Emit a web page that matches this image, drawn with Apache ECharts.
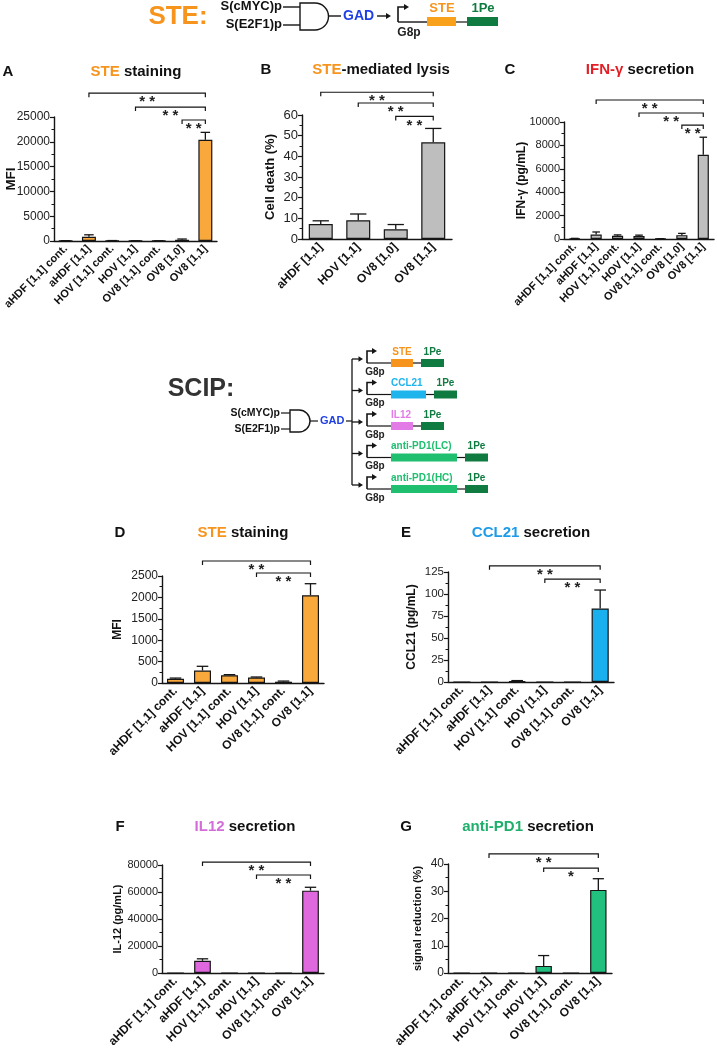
<!DOCTYPE html>
<html><head><meta charset="utf-8">
<script src="https://cdn.jsdelivr.net/npm/echarts@6/dist/echarts.min.js"></script>
<style>html,body{margin:0;padding:0;background:#fff}#c{width:717px;height:1050px}</style>
</head><body><div id="c"></div>
<script>
// ---------- DATA ----------
const catsA = ['aHDF [1,1] cont.', 'aHDF [1,1]', 'HOV [1,1] cont.', 'HOV [1,1]', 'OV8 [1,1] cont.', 'OV8 [1,0]', 'OV8 [1,1]'];
const valsA = [50, 850, 60, 40, 30, 250, 20400];
const errA  = [20, 400, 30, 20, 10, 150, 1500];
const sigA  = [[1, 6, 29800, '* *'], [3, 6, 27000, '* *'], [5, 6, 24400, '* *']];

const catsB = ['aHDF [1,1]', 'HOV [1,1]', 'OV8 [1,0]', 'OV8 [1,1]'];
const valsB = [7.2, 9.1, 4.7, 46.8];
const errB  = [1.6, 3.0, 2.3, 6.7];
const sigB  = [[0, 3, 71, '* *'], [1, 3, 65.8, '* *'], [2, 3, 59.3, '* *']];

const catsC = ['aHDF [1,1] cont.', 'aHDF [1,1]', 'HOV [1,1] cont.', 'HOV [1,1]', 'OV8 [1,1] cont.', 'OV8 [1,0]', 'OV8 [1,1]'];
const valsC = [40, 380, 270, 250, 20, 330, 7200];
const errC  = [15, 220, 80, 80, 5, 150, 1500];
const sigC  = [[1, 6, 11880, '* *'], [3, 6, 10770, '* *'], [5, 6, 9740, '* *']];

const catsDG = ['aHDF [1,1] cont.', 'aHDF [1,1]', 'HOV [1,1] cont.', 'HOV [1,1]', 'OV8 [1,1] cont.', 'OV8 [1,1]'];
const valsD = [100, 290, 180, 130, 30, 2050];
const errD  = [15, 100, 15, 10, 15, 270];
const sigD  = [[1, 5, 2850, '* *'], [3, 5, 2570, '* *']];

const valsE = [0, 0, 0.8, 0, 0, 83.5];
const errE  = [0, 0, 0.8, 0, 0, 21];
const sigE  = [[1, 5, 132, '* *'], [3, 5, 117, '* *']];

const valsF = [0, 9000, 0, 0, 0, 61000];
const errF  = [0, 1500, 0, 0, 0, 2500];
const sigF  = [[1, 5, 82200, '* *'], [3, 5, 72600, '* *']];

const valsG = [0, 0, 0, 2.6, 0, 30.5];
const errG  = [0, 0, 0, 3.8, 0, 4.1];
const sigG  = [[1, 5, 43.7, '* *'], [3, 5, 38.5, '*']];

// ---------- STYLE / LAYOUT ----------
const FONT = '"Liberation Sans", Arial, Helvetica, sans-serif';
const INK = '#151515';

const panels = [
  {cats: catsA, vals: valsA, err: errA, sig: sigA, color: '#F9A93C', max: 25000, interval: 5000, grid: {left: 54, top: 117, width: 163, height: 124}, name: 'MFI', nameSize: 13.5, nameGap: 36, tick: 12, xl: 11, bw: '60%'},
  {cats: catsB, vals: valsB, err: errB, sig: sigB, color: '#BEBEBE', max: 60, interval: 10, grid: {left: 302, top: 115, width: 150, height: 124}, name: 'Cell death (%)', nameSize: 13, nameGap: 25, tick: 13, xl: 12, bw: '64%'},
  {cats: catsC, vals: valsC, err: errC, sig: sigC, color: '#BEBEBE', max: 10000, interval: 2000, grid: {left: 564, top: 122, width: 150, height: 117}, name: 'IFN-γ (pg/mL)', nameSize: 12, nameGap: 36, tick: 11, xl: 11, bw: '52%'},
  {cats: catsDG, vals: valsD, err: errD, sig: sigD, color: '#F9A93C', max: 2500, interval: 500, grid: {left: 162, top: 576, width: 162, height: 107}, name: 'MFI', nameSize: 12, nameGap: 38, tick: 12, xl: 12, bw: '63%'},
  {cats: catsDG, vals: valsE, err: errE, sig: sigE, color: '#1AAFEF', max: 125, interval: 25, grid: {left: 448, top: 572, width: 166, height: 110}, name: 'CCL21 (pg/mL)', nameSize: 12, nameGap: 30, tick: 11.5, xl: 12, bw: '62%'},
  {cats: catsDG, vals: valsF, err: errF, sig: sigF, color: '#DF68DF', max: 80000, interval: 20000, grid: {left: 162, top: 865, width: 162, height: 108}, name: 'IL-12 (pg/mL)', nameSize: 11, nameGap: 39, tick: 11, xl: 12, bw: '62%'},
  {cats: catsDG, vals: valsG, err: errG, sig: sigG, color: '#22C07F', max: 40, interval: 10, grid: {left: 448, top: 864, width: 164, height: 109}, name: 'signal reduction (%)', nameSize: 11, nameGap: 25, tick: 12, xl: 12, bw: '60%'}
];

const grids = [], xAxes = [], yAxes = [], series = [];
panels.forEach((p, i) => {
  grids.push(Object.assign({containLabel: false}, p.grid));
  xAxes.push({
    gridIndex: i, type: 'category', data: p.cats,
    axisLine: {lineStyle: {color: INK, width: 1.4}},
    axisTick: {alignWithLabel: true, length: 4, lineStyle: {color: INK, width: 1.2}},
    axisLabel: {rotate: 45, interval: 0, fontSize: p.xl, fontWeight: 'bold', color: '#111', fontFamily: FONT, margin: 6}
  });
  yAxes.push({
    gridIndex: i, type: 'value', min: 0, max: p.max, interval: p.interval,
    splitLine: {show: false},
    axisLine: {show: true, lineStyle: {color: INK, width: 1.4}},
    axisTick: {show: true, length: 4, lineStyle: {color: INK, width: 1.2}},
    minorTick: {show: true, splitNumber: 2, length: 2.5, lineStyle: {color: INK, width: 1}},
    axisLabel: {fontSize: p.tick, color: '#222', fontFamily: FONT, margin: 4, formatter: v => String(v)},
    name: p.name, nameLocation: 'middle', nameGap: p.nameGap, nameMoveOverlap: false,
    nameTextStyle: {fontSize: p.nameSize, fontWeight: 'bold', color: '#111', fontFamily: FONT}
  });
  series.push({
    type: 'bar', xAxisIndex: i, yAxisIndex: i, data: p.vals, barWidth: p.bw,
    itemStyle: {color: p.color, borderColor: INK, borderWidth: 1.2}, silent: true
  });
  const ratio = parseFloat(p.bw) / 100;
  series.push({
    type: 'custom', xAxisIndex: i, yAxisIndex: i, silent: true, z: 5,
    data: p.vals.map((v, k) => [k, v, p.err[k]]),
    encode: {x: 0, y: 1},
    renderItem: function (params, api) {
      const x = api.value(0), v = api.value(1), e = api.value(2);
      if (!(e > 0)) return null;
      const base = api.coord([x, v]);
      const top = api.coord([x, v + e]);
      const cap = api.size([1, 0])[0] * ratio * 0.68;
      return {type: 'group', children: [
        {type: 'line', shape: {x1: top[0], y1: base[1], x2: top[0], y2: top[1]}, style: {stroke: INK, lineWidth: 1.3}},
        {type: 'line', shape: {x1: top[0] - cap / 2, y1: top[1], x2: top[0] + cap / 2, y2: top[1]}, style: {stroke: INK, lineWidth: 1.3}}
      ]};
    }
  });
  const sig = p.sig;
  series.push({
    type: 'custom', xAxisIndex: i, yAxisIndex: i, silent: true, clip: false, z: 6,
    data: sig.map(s => [s[0], s[2], s[1]]),
    encode: {x: 0, y: 1},
    renderItem: function (params, api) {
      const s = sig[params.dataIndex];
      const a = api.coord([s[0], s[2]]);
      const b = api.coord([s[1], s[2]]);
      return {type: 'group', children: [
        {type: 'polyline', shape: {points: [[a[0], a[1] + 4], [a[0], a[1]], [b[0], b[1]], [b[0], b[1] + 4]]}, style: {stroke: INK, lineWidth: 1.2, fill: null}},
        {type: 'text', x: (a[0] + b[0]) / 2, y: a[1] + 1.5, style: {text: s[3], align: 'center', verticalAlign: 'top', fontSize: 15, fontWeight: 'bold', fontFamily: FONT, fill: '#222'}}
      ]};
    }
  });
});

// ---------- GRAPHIC (titles + diagrams) ----------
const G = [];
function txt(x, y, text, size, fill, align, extra) {
  G.push(Object.assign({type: 'text', x: x, y: y, silent: true,
    style: {text: text, fontSize: size, fontWeight: 'bold', fontFamily: FONT, fill: fill || '#111', align: align || 'center', verticalAlign: 'middle'}}, extra || {}));
}
function rich(x, y, text, size, richMap) {
  const r = {};
  Object.keys(richMap).forEach(k => { r[k] = {fill: richMap[k], fontSize: size, fontWeight: 'bold', fontFamily: FONT}; });
  G.push({type: 'text', x: x, y: y, silent: true,
    style: {text: text, fontSize: size, fontWeight: 'bold', fontFamily: FONT, fill: '#111', align: 'center', verticalAlign: 'middle', rich: r}});
}
function line(x1, y1, x2, y2, w) {
  G.push({type: 'line', silent: true, shape: {x1: x1, y1: y1, x2: x2, y2: y2}, style: {stroke: INK, lineWidth: w || 1.4}});
}
function rect(x, y, w, h, fill) {
  G.push({type: 'rect', silent: true, shape: {x: x, y: y, width: w, height: h}, style: {fill: fill}});
}
function arrowR(x, y, s) {
  G.push({type: 'polygon', silent: true, shape: {points: [[x, y], [x - s, y - s * 0.6], [x - s, y + s * 0.6]]}, style: {fill: INK}});
}
function gate(x, top, bot, straight) {
  const h = bot - top, r = h / 2;
  G.push({type: 'polyline', silent: true, shape: {points: [[x + straight, top], [x, top], [x, bot], [x + straight, bot]]}, style: {stroke: INK, lineWidth: 1.4, fill: null}});
  G.push({type: 'arc', silent: true, shape: {cx: x + straight, cy: top + r, r: r, startAngle: -Math.PI / 2, endAngle: Math.PI / 2, clockwise: true}, style: {stroke: INK, lineWidth: 1.4, fill: null}});
}
function promoter(x, base, h, len) {
  G.push({type: 'polyline', silent: true, shape: {points: [[x, base], [x, base - h], [x + len, base - h]]}, style: {stroke: INK, lineWidth: 1.6, fill: null}});
  arrowR(x + len + 4, base - h, 5);
}

// Panel letters & titles
txt(8, 72, 'A', 15);
rich(136, 72, '{o|STE} staining', 15, {o: '#F7941D'});
txt(266, 70, 'B', 15);
rich(381, 70, '{o|STE}-mediated lysis', 15, {o: '#F7941D'});
txt(510, 70, 'C', 15);
rich(640, 70, '{r|IFN-γ} secretion', 15, {r: '#E31E24'});
txt(120, 533, 'D', 15);
rich(243, 533, '{o|STE} staining', 15, {o: '#F7941D'});
txt(406, 533, 'E', 15);
rich(531, 533, '{b|CCL21} secretion', 15, {b: '#1E9BE8'});
txt(120, 827, 'F', 15);
rich(245, 827, '{m|IL12} secretion', 15, {m: '#D46DD8'});
txt(406, 827, 'G', 15);
rich(528, 827, '{g|anti-PD1} secretion', 15, {g: '#1FAF6C'});

// Top STE diagram
txt(178, 17, 'STE:', 26, '#F7941D');
txt(282, 6, 'S(cMYC)p', 13, '#111', 'right');
txt(282, 24, 'S(E2F1)p', 13, '#111', 'right');
line(283, 7, 300, 7); line(283, 25, 300, 25);
gate(300, 3, 30, 15);
line(328, 16, 341, 16);
txt(343, 16, 'GAD', 14, '#1F3FE6', 'left');
line(377, 16, 387, 16); arrowR(391, 16, 5);
promoter(398, 22, 15, 7);
line(398, 22, 427, 22);
txt(409, 33, 'G8p', 12, '#222');
rect(427, 17, 29, 9, '#F9A11B');
line(456, 22, 467, 22, 1.2);
rect(467, 17, 31, 9, '#107B41');
txt(442, 8, 'STE', 13, '#F7941D');
txt(483, 8, '1Pe', 13, '#107B41');

// SCIP diagram
txt(201, 389, 'SCIP:', 25, '#333');
txt(280, 413, 'S(cMYC)p', 10.5, '#111', 'right');
txt(280, 429, 'S(E2F1)p', 10.5, '#111', 'right');
line(281, 413, 290, 413, 1.2); line(281, 429, 290, 429, 1.2);
gate(290, 410, 432, 9);
line(310, 421, 318, 421, 1.2);
txt(320, 421, 'GAD', 11, '#1F3FE6', 'left');
line(346, 421, 352, 421, 1.2);
const rowY = [363, 394.5, 426, 457.5, 489];
line(352, rowY[0] - 4, 352, rowY[4] - 4, 1.3);
const rows = [
  {label: 'STE', col: '#F7941D', w: 22, lx: 402, la: 'center'},
  {label: 'CCL21', col: '#1FB4EC', w: 35, lx: 391, la: 'left'},
  {label: 'IL12', col: '#E27BE6', w: 22, lx: 391, la: 'left'},
  {label: 'anti-PD1(LC)', col: '#1FBF6F', w: 66, lx: 391, la: 'left'},
  {label: 'anti-PD1(HC)', col: '#1FBF6F', w: 66, lx: 391, la: 'left'}
];
rows.forEach((r, k) => {
  const cy = rowY[k];
  line(352, cy - 4, 359, cy - 4, 1.3); arrowR(363, cy - 4, 4.5);
  promoter(367, cy, 12, 6);
  line(367, cy, 391, cy, 1.2);
  txt(375, cy + 9, 'G8p', 10, '#222');
  rect(391, cy - 4, r.w, 8, r.col);
  line(391 + r.w, cy, 399 + r.w, cy, 1.2);
  rect(399 + r.w, cy - 4, 23, 8, '#107B41');
  txt(r.lx, cy - 11, r.label, 10, r.col, r.la);
  txt(410.5 + r.w, cy - 11, '1Pe', 10, '#107B41');
});

const chart = echarts.init(document.getElementById('c'), null, {renderer: 'canvas'});
chart.setOption({
  animation: false,
  backgroundColor: '#fff',
  grid: grids, xAxis: xAxes, yAxis: yAxes, series: series,
  graphic: {elements: G}
});
</script></body></html>
